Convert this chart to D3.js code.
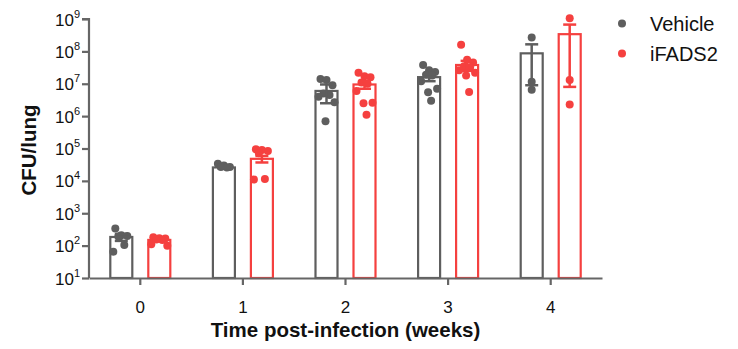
<!DOCTYPE html>
<html><head><meta charset="utf-8">
<script src="https://cdn.jsdelivr.net/npm/d3@7"></script>
<style>body{margin:0;background:#fff}svg{display:block}text{font-family:"Liberation Sans",Arial,sans-serif}</style>
</head><body><svg id="c" width="738" height="349"></svg>
<script>
const categories = ["0","1","2","3","4"];
const seriesNames = ["Vehicle","iFADS2"];
const vehicleMean = [185, 26000, 6.0e6, 1.6e7, 8.7e7];
const vehicleSem  = [45, 1500, 3.5e6, 4.0e6, 7.8e7];
const ifadsMean   = [150, 48000, 9.5e6, 3.8e7, 3.4e8];
const ifadsSem    = [12, 11000, 2.5e6, 1.3e7, 3.32e8];
const vehiclePoints = [
  [340, 210, 200, 190, 105, 65],
  [34000, 30000, 27000, 27000, 26000],
  [1.4e7, 1.3e7, 9e6, 5e6, 4.5e6, 4e6, 2.7e6, 7e5],
  [3.8e7, 2.6e7, 2.3e7, 1.9e7, 1.8e7, 1.2e7, 7e6, 5.5e6, 3e6],
  [2.7e8, 1.15e7, 6.5e6]
];
const ifadsPoints = [
  [180, 170, 165, 155, 150, 110, 100],
  [95000, 90000, 83000, 71000, 11500, 11000],
  [2.2e7, 1.7e7, 1.6e7, 1.1e7, 1.0e7, 6e6, 2.6e6, 2.5e6, 1.1e6],
  [1.6e8, 5.5e7, 4.5e7, 3.5e7, 3.2e7, 2.6e7, 2.2e7, 1.8e7, 5.6e6],
  [1.05e9, 1.3e7, 2.3e6]
];
const yTickExps = [1,2,3,4,5,6,7,8,9];
const colors = {"Vehicle":"#5e5e5e","iFADS2":"#f5403f"};

const series = [
  {name:"Vehicle", mean:vehicleMean, sem:vehicleSem, pts:vehiclePoints},
  {name:"iFADS2", mean:ifadsMean, sem:ifadsSem, pts:ifadsPoints}
];

const svg = d3.select("#c");
const L = 89, R = 602, T = 19, B = 278;
const y = d3.scaleLog().domain([10, 1e9]).range([B, T]);
const x0 = d3.scaleBand().domain(categories).range([L, R]);
const x1 = d3.scaleBand().domain(seriesNames).range([-31, 31]).paddingInner(14/38).paddingOuter(0);
const bw = x1.bandwidth();
const axisCol = "#666";

// bars
series.forEach(s => {
  const g = svg.append("g");
  categories.forEach((c, i) => {
    const cx = x0(c) + x0.bandwidth()/2 + x1(s.name);
    g.append("rect")
      .attr("x", cx + 1).attr("y", y(s.mean[i]))
      .attr("width", bw - 2).attr("height", B - y(s.mean[i]))
      .attr("fill", "#fff").attr("stroke", colors[s.name]).attr("stroke-width", 2.2);
  });
});

// points
const jit = [-6, 0, 6, -3, 3, -8, 8, -1, 2];
series.forEach(s => {
  categories.forEach((c, i) => {
    const cx = x0(c) + x0.bandwidth()/2 + x1(s.name) + bw/2;
    const n = s.pts[i].length;
    s.pts[i].forEach((v, k) => {
      const dx = n <= 3 ? 0 : jit[k % jit.length];
      svg.append("circle").attr("cx", cx + dx).attr("cy", y(v))
        .attr("r", 4).attr("fill", colors[s.name]);
    });
  });
});

// error bars
series.forEach(s => {
  categories.forEach((c, i) => {
    const cx = x0(c) + x0.bandwidth()/2 + x1(s.name) + bw/2;
    const hi = s.mean[i] + s.sem[i];
    const lo = Math.max(s.mean[i] - s.sem[i], 10);
    const col = colors[s.name];
    svg.append("line").attr("x1", cx).attr("x2", cx).attr("y1", y(lo)).attr("y2", y(hi))
      .attr("stroke", col).attr("stroke-width", 2.5);
    [hi, lo].forEach(v => {
      svg.append("line").attr("x1", cx - 6.5).attr("x2", cx + 6.5).attr("y1", y(v)).attr("y2", y(v))
        .attr("stroke", col).attr("stroke-width", 2.5);
    });
  });
});

// y axis
const yAxis = d3.axisLeft(y).tickValues(yTickExps.map(e => Math.pow(10, e))).tickSize(7).tickFormat("");
const ya = svg.append("g").attr("transform", `translate(${L},0)`).call(yAxis);
ya.select(".domain").attr("stroke", axisCol).attr("stroke-width", 2.2).attr("d", `M-7,${T}H0V${B}`);
ya.selectAll(".tick line").attr("stroke", axisCol).attr("stroke-width", 2.2);
yTickExps.forEach(e => {
  const t = svg.append("text").attr("x", 80).attr("y", y(Math.pow(10, e)) + 6.5)
    .attr("text-anchor", "end").attr("font-size", 17).attr("fill", "#111");
  t.append("tspan").text("10");
  t.append("tspan").attr("dy", -8).attr("font-size", 11).text(e);
});

// x axis
const xAxis = d3.axisBottom(x0).tickSize(7).tickSizeOuter(0);
const xa = svg.append("g").attr("transform", `translate(0,${B})`).call(xAxis);
xa.select(".domain").attr("stroke", axisCol).attr("stroke-width", 2.2);
xa.selectAll(".tick line").attr("stroke", axisCol).attr("stroke-width", 2.2);
xa.selectAll(".tick text").attr("font-size", 17).attr("fill", "#111").attr("dy", "1.45em")
  .style("font-family", '"Liberation Sans",Arial,sans-serif');

// titles
svg.append("text").attr("x", (L + R)/2).attr("y", 337).attr("text-anchor", "middle")
  .attr("font-size", 20.5).attr("font-weight", "bold").attr("fill", "#111").text("Time post-infection (weeks)");
svg.append("text").attr("transform", "translate(36,150) rotate(-90)").attr("text-anchor", "middle")
  .attr("font-size", 20.5).attr("font-weight", "bold").attr("fill", "#111").text("CFU/lung");

// legend
seriesNames.forEach((n, i) => {
  const ly = 23.5 + i * 30;
  svg.append("circle").attr("cx", 622).attr("cy", ly).attr("r", 4).attr("fill", colors[n]);
  svg.append("text").attr("x", 650).attr("y", ly + 7).attr("font-size", 20).attr("fill", "#111").text(n);
});
</script></body></html>
